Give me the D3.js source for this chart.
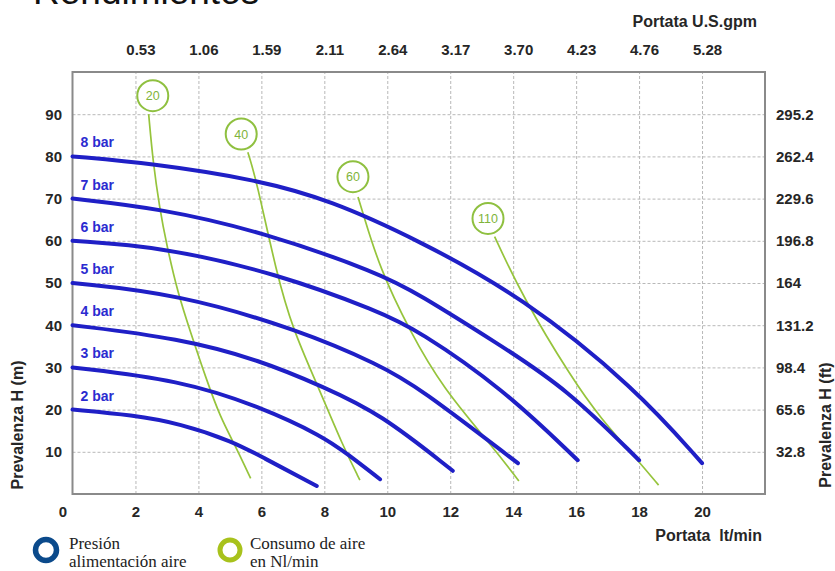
<!DOCTYPE html>
<html>
<head>
<meta charset="utf-8">
<script src="https://cdn.jsdelivr.net/npm/d3@7"></script>
<style>
  body { margin: 0; background: #fff; }
  svg { display: block; font-family: "Liberation Sans", Arial, sans-serif; }
</style>
</head>
<body>
<svg id="chart" width="835" height="571"></svg>
<script>
// Pressure curves: [flow l/min, head m]
var bar8 = [[0, 80], [2.56, 78.3], [5.84, 74.5], [8.2, 69.6], [10.97, 60.2], [14.3, 46.7], [17.9, 25], [20, 7.3]];
var bar7 = [[0, 70], [2.77, 67.7], [6.05, 62.1], [9.76, 52.3], [10.97, 47.5], [13.5, 35.7], [15.7, 25], [18, 8]];
var bar6 = [[0, 60], [2.8, 58.6], [6.48, 52.3], [9.76, 43.2], [10.97, 38.8], [13.67, 25], [16.05, 8]];
var bar5 = [[0, 50], [3.3, 47.5], [7.23, 38.8], [9.77, 30.5], [10.97, 25.4], [14.15, 7.3]];
var bar4 = [[0, 40], [3.41, 36.9], [5.96, 31.7], [7.97, 25.4], [9.77, 19.1], [12.08, 5.5]];
var bar3 = [[0, 30], [3.41, 27], [5.96, 20.7], [7.97, 13.6], [8.71, 9.6], [9.77, 3.5]];
var bar2 = [[0, 20], [1.92, 18.7], [3.41, 16.7], [5.11, 12.4], [5.96, 9.0], [7.76, 1.9]];
var pressureNames = ['8 bar', '7 bar', '6 bar', '5 bar', '4 bar', '3 bar', '2 bar'];

// Air consumption curves (Nl/min)
var air20 = [[2.42, 90], [2.56, 78.5], [2.77, 67.7], [2.98, 59.4], [3.35, 47.5], [3.73, 38.8], [4.26, 27], [4.69, 18.3], [5.16, 11.6], [5.66, 3.7]];
var air40 = [[5.57, 81], [5.84, 74.5], [6.48, 52.3], [7.01, 38.8], [7.76, 26.2], [8.6, 11.2], [9.13, 3.3]];
var air60 = [[9.07, 70.4], [9.23, 66.5], [9.76, 53.5], [10.7, 38.8], [11.77, 25], [13.35, 11.2], [14.18, 3.1]];
var air110 = [[13.41, 61], [14.3, 46.7], [15.9, 27], [16.74, 18.3], [18, 7.6], [18.62, 2.1]];
var airNames = ['20', '40', '60', '110'];
var airBadges = [[2.55, 94.4], [5.36, 85.3], [8.91, 75.2], [13.2, 65.3]];

// Tick labels
var flowTicks = [0, 2, 4, 6, 8, 10, 12, 14, 16, 18, 20];
var gpmTicks = [2, 4, 6, 8, 10, 12, 14, 16, 18, 20];
var gpmLabels = ['0.53', '1.06', '1.59', '2.11', '2.64', '3.17', '3.70', '4.23', '4.76', '5.28'];
var headTicks = [10, 20, 30, 40, 50, 60, 70, 80, 90];
var feetLabels = ['32.8', '65.6', '98.4', '131.2', '164', '196.8', '229.6', '262.4', '295.2'];

var svg = d3.select('#chart');
var L = 72.5, R = 765, T = 72, B = 494;

var x = d3.scaleLinear().domain([0, 22]).range([L, R]);
var y = d3.scaleLinear().domain([0, 100]).range([B, T]);

// title, cut by the top edge
svg.append('text')
  .attr('x', 33).attr('y', 4)
  .attr('font-size', 37).attr('fill', '#111')
  .text('Rendimientos');

// grid
var grid = svg.append('g');
grid.append('g')
  .attr('transform', 'translate(0,' + B + ')')
  .call(d3.axisBottom(x).tickValues(gpmTicks).tickSize(-(B - T)).tickFormat(''));
grid.append('g')
  .attr('transform', 'translate(' + L + ',0)')
  .call(d3.axisLeft(y).tickValues(headTicks).tickSize(-(R - L)).tickFormat(''));
grid.selectAll('.domain').remove();
grid.selectAll('line')
  .attr('stroke', '#b8b8b8')
  .attr('stroke-width', 1)
  .attr('stroke-dasharray', '3,2');

// frame
svg.append('rect')
  .attr('x', L).attr('y', T)
  .attr('width', R - L).attr('height', B - T)
  .attr('fill', 'none')
  .attr('stroke', '#8a8a8a')
  .attr('stroke-width', 2);

function styleAxis(g) {
  g.select('.domain').remove();
  g.selectAll('text')
    .attr('font-family', '"Liberation Sans", Arial, sans-serif')
    .attr('font-size', 15)
    .attr('font-weight', 'bold')
    .attr('fill', '#262626');
}

var bottomAxis = svg.append('g')
  .attr('transform', 'translate(0,' + B + ')')
  .call(d3.axisBottom(x).tickValues(flowTicks).tickSize(0).tickPadding(12))
  .call(styleAxis);
bottomAxis.selectAll('text').filter(function (d) { return d === 0; }).attr('dx', -10);

svg.append('g')
  .attr('transform', 'translate(0,' + T + ')')
  .call(d3.axisTop(x).tickValues(gpmTicks).tickSize(0).tickPadding(17)
    .tickFormat(function (d, i) { return gpmLabels[i]; }))
  .call(styleAxis)
  .selectAll('text').attr('dx', 5);

svg.append('g')
  .attr('transform', 'translate(' + L + ',0)')
  .call(d3.axisLeft(y).tickValues(headTicks).tickSize(0).tickPadding(10.5))
  .call(styleAxis);

svg.append('g')
  .attr('transform', 'translate(' + R + ',0)')
  .call(d3.axisRight(y).tickValues(headTicks).tickSize(0).tickPadding(11)
    .tickFormat(function (d, i) { return feetLabels[i]; }))
  .call(styleAxis);

// axis titles
function title(txt, tx, ty, rot, anchor) {
  svg.append('text')
    .attr('transform', 'translate(' + tx + ',' + ty + ') rotate(' + rot + ')')
    .attr('text-anchor', anchor)
    .attr('font-size', 16)
    .attr('font-weight', 'bold')
    .attr('fill', '#262626')
    .text(txt);
}
title('Portata U.S.gpm', 757, 27, 0, 'end');
title('Portata\u00a0\u00a0lt/min', 762, 541, 0, 'end');
title('Prevalenza H (m)', 23, 425, -90, 'middle');
title('Prevalenza H (ft)', 831, 425, -90, 'middle');

var line = d3.line()
  .x(function (d) { return x(d[0]); })
  .y(function (d) { return y(d[1]); })
  .curve(d3.curveBasis);

// air consumption lines
var airSeries = [air20, air40, air60, air110];
svg.append('g')
  .selectAll('path')
  .data(airSeries)
  .join('path')
  .attr('d', line)
  .attr('fill', 'none')
  .attr('stroke', '#96c43c')
  .attr('stroke-width', 1.7);

// pressure curves
var pressureSeries = [bar8, bar7, bar6, bar5, bar4, bar3, bar2];
svg.append('g')
  .selectAll('path')
  .data(pressureSeries)
  .join('path')
  .attr('d', line)
  .attr('fill', 'none')
  .attr('stroke', '#1f1fc6')
  .attr('stroke-width', 4)
  .attr('stroke-linecap', 'round');

svg.append('g')
  .selectAll('text')
  .data(pressureSeries)
  .join('text')
  .attr('x', function (d) { return x(d[0][0]) + 8; })
  .attr('y', function (d) { return y(d[0][1]) - 9; })
  .attr('font-size', 14)
  .attr('font-weight', 'bold')
  .attr('fill', '#2b2bd0')
  .text(function (d, i) { return pressureNames[i]; });

// air badges
var badge = svg.append('g')
  .selectAll('g')
  .data(airBadges)
  .join('g')
  .attr('transform', function (d) { return 'translate(' + x(d[0]) + ',' + y(d[1]) + ')'; });
badge.append('circle')
  .attr('r', 15.5)
  .attr('fill', '#fff')
  .attr('stroke', '#8fc040')
  .attr('stroke-width', 2);
badge.append('text')
  .attr('text-anchor', 'middle')
  .attr('dy', '0.36em')
  .attr('font-size', 12.5)
  .attr('fill', '#80b43a')
  .text(function (d, i) { return airNames[i]; });

// legend
var legend = svg.append('g')
  .attr('font-family', '"Liberation Serif", "Times New Roman", serif')
  .attr('font-size', 17)
  .attr('fill', '#222');
legend.append('circle').attr('cx', 46).attr('cy', 550).attr('r', 10.5)
  .attr('fill', 'none').attr('stroke', '#0b4a8b').attr('stroke-width', 5.5);
legend.append('text').attr('x', 69).attr('y', 549).text('Presión');
legend.append('text').attr('x', 69).attr('y', 567).text('alimentación aire');
legend.append('circle').attr('cx', 230).attr('cy', 550).attr('r', 10)
  .attr('fill', 'none').attr('stroke', '#a8c21c').attr('stroke-width', 5);
legend.append('text').attr('x', 250).attr('y', 549).text('Consumo de aire');
legend.append('text').attr('x', 250).attr('y', 567).text('en Nl/min');
</script>
</body>
</html>
